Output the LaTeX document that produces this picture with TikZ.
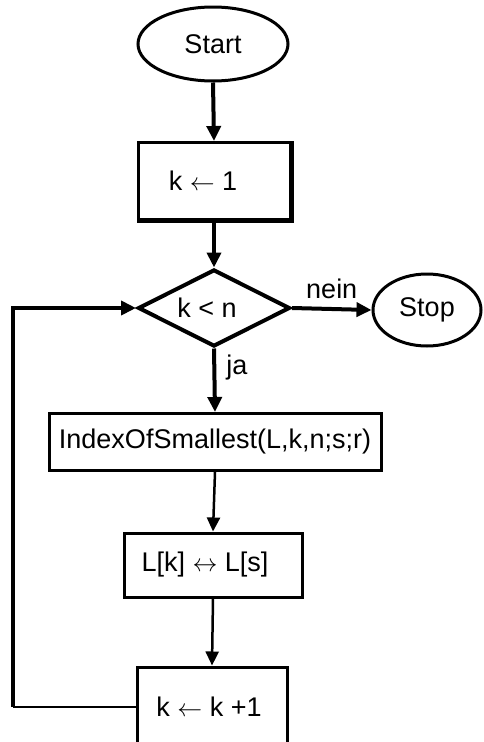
\documentclass[tikz,border=0pt]{standalone}
\usepackage{fontspec}
\setmainfont{Liberation Sans}
\usetikzlibrary{shapes.geometric,arrows.meta}
\tikzset{
  every node/.style={font=\fontsize{27}{31}\selectfont},
  term/.style={ellipse, draw, line width=3pt, inner sep=0pt},
  procbox/.style={rectangle, draw, line width=3pt, inner sep=0pt},
  decis/.style={diamond, draw, line width=4pt, inner sep=0pt, aspect=2},
  thickflow/.style={line width=4pt, -{Triangle[length=15pt,width=14pt]}},
  thinflow/.style={line width=2.5pt, -{Triangle[length=14pt,width=13pt]}},
  lbl/.style={inner sep=0pt}
}
\begin{document}
\begin{tikzpicture}[x=1pt,y=-1pt]
\useasboundingbox (0,0) rectangle (484,742);
\clip (0,0) rectangle (484,742);
\node[term, minimum width=150pt, minimum height=74pt] (start) at (213,44) {Start};
\node[procbox, minimum width=152pt, minimum height=77pt] (b1) at (214,181) {};
\node[lbl] at (203,181) {k $\leftarrow$ 1};
\node[decis, minimum width=152pt, minimum height=77pt] (dia) at (214,308) {};
\node[lbl] at (207,308) {k < n};
\node[term, minimum width=108pt, minimum height=72pt] (stop) at (427,310) {Stop};
\node[procbox, minimum width=332pt, minimum height=57pt] (b2) at (215,442) {IndexOfSmallest(L,k,n;s;r)};
\node[procbox, minimum width=178pt, minimum height=64pt] (b3) at (213,565) {};
\node[lbl] at (205,565) {L[k] $\leftrightarrow$ L[s]};
\node[procbox, minimum width=150pt, minimum height=80pt] (b4) at (212,707) {};
\node[lbl] at (209,707) {k $\leftarrow$ k +1};
\draw[line width=4pt] (b1.north east) -- (b1.south east) -- (b1.south west);
\coordinate (lc) at (13,704);
\draw[thickflow] (start.south) -- (b1.north);
\draw[thickflow] (b1.south) -- (dia.north);
\draw[thickflow] (dia.east) -- node[lbl, above=8pt] {nein} (stop.west);
\draw[thickflow] (dia.south) -- node[lbl, right=10pt, pos=0.3] {ja} (b2.north);
\draw[thinflow] (b2.south) -- (b3.north);
\draw[thinflow] (b3.south) -- (b4.north);
\draw[line width=2.5pt] (b4.west) -- (b4.west -| lc);
\draw[thickflow] (b4.west -| lc) -- (dia.west -| lc) -- (dia.west);
\end{tikzpicture}
\end{document}
